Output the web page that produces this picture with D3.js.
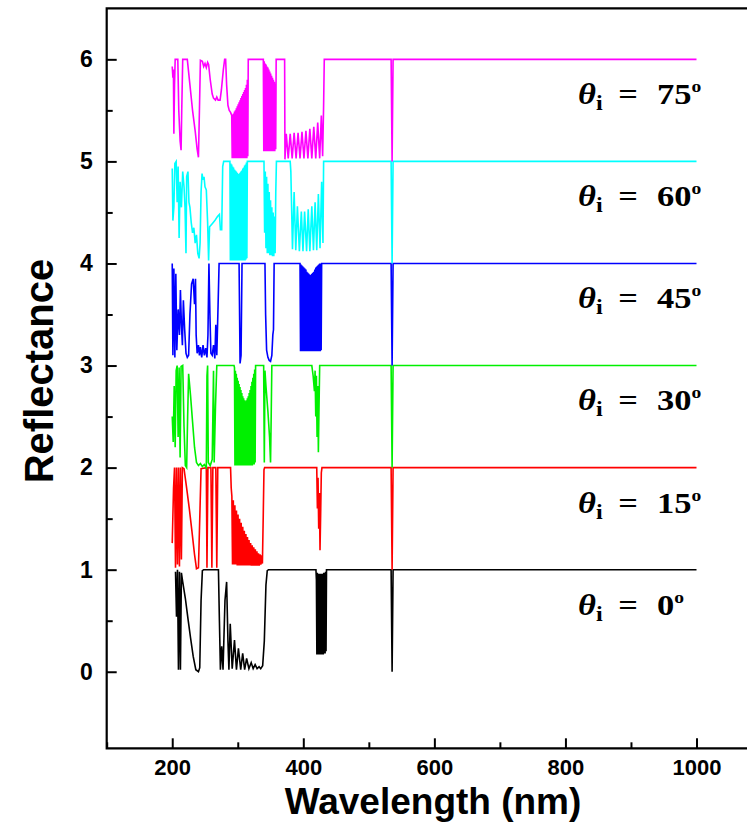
<!DOCTYPE html>
<html>
<head>
<meta charset="utf-8">
<script src="https://cdn.jsdelivr.net/npm/d3@7/dist/d3.min.js"></script>
<style>
  html, body { margin: 0; padding: 0; background: #ffffff; }
  svg { display: block; }
</style>
</head>
<body>
<svg id="chart" width="747" height="823"></svg>
<script>
// ---------------- DATA ----------------
const angles = [0, 15, 30, 45, 60, 75];
const colors = ["#000000", "#ff0000", "#00f000", "#0000ff", "#00ffff", "#ff00ff"];
const xMajorTicks = [200, 400, 600, 800, 1000];
const xMinorTicks = [100, 300, 500, 700, 900];
const yMajorTicks = [0, 1, 2, 3, 4, 5, 6];
const yMinorTicks = [0.5, 1.5, 2.5, 3.5, 4.5, 5.5];

// [wavelength (nm), reflectance] — each curve is offset by its index in the plot
const theta0 = [
  [205,0.98],[206.5,0.54],[208,1.0],[209.5,0.02],[211,0.98],[212.5,0.02],[214,0.97],[216,0.88],
  [220,0.72],[224,0.52],[228,0.33],[232,0.15],[236,0.02],[240,0.0],[242,0.04],[244,0.7],[246,0.99],
  [248,1.0],[270.5,1.0],[272,0.5],[273.5,0.02],[275.5,0.25],[277.5,0.02],[280.5,0.7],[283,0.88],
  [285,0.3],[286.5,0.02],[288.5,0.47],[291.5,0.03],[295,0.31],[298,0.02],[301,0.23],[304.5,0.02],
  [307.5,0.18],[310.5,0.02],[313.5,0.13],[317,0.03],[320.5,0.09],[323.5,0.03],[326.5,0.07],
  [329.5,0.03],[332.5,0.05],[335,0.03],[338,0.06],[340.5,0.3],[343,0.85],[345,0.99],[347,1.0],
  [419.3,1.0],[420,0.9],[420.7,0.17],[421.4,0.97],[422.1,0.17],[422.8,0.96],[423.5,0.17],[424.2,0.96],
  [424.9,0.17],[425.6,0.96],[426.3,0.17],[427,0.96],[427.7,0.17],[428.4,0.96],[429.1,0.17],
  [429.8,0.96],[430.5,0.17],[431.2,0.97],[431.9,0.18],[432.6,0.97],[433.3,0.18],[434,0.98],
  [434.7,0.2],[435.4,1.0],[534,1.0],[535.5,0.0],[537,1.0],[1000,1.0]
];
const theta15 = [
  [200,0.26],[202,0.8],[203.5,1.0],[205,0.02],[206.5,1.0],[208,0.05],[209.5,1.0],[211,0.03],
  [212.5,1.0],[214,0.1],[215.5,1.0],[218,0.99],[222,0.8],[226,0.6],[230,0.38],[234,0.15],[237,0.01],
  [240,0.02],[242,0.5],[244,0.99],[252,1.0],[253,0.02],[254.5,1.0],[259,1.0],[260.5,0.02],[262,1.0],
  [266.5,1.0],[268,0.02],[269.5,1.0],[289,1.0],[290,0.8],[291,0.72],[292,0.05],[293.2,0.68],
  [294.4,0.05],[295.6,0.63],[296.8,0.05],[298,0.58],[299.2,0.04],[300.4,0.54],[301.6,0.04],
  [302.8,0.5],[304,0.04],[305.2,0.46],[306.4,0.04],[307.6,0.42],[308.8,0.04],[310,0.38],[311.2,0.04],
  [312.4,0.35],[313.6,0.04],[314.8,0.32],[316,0.04],[317.2,0.29],[318.4,0.04],[319.6,0.26],
  [320.8,0.04],[322,0.24],[323.2,0.04],[324.4,0.22],[325.6,0.04],[326.8,0.2],[328,0.04],[329.2,0.18],
  [330.4,0.04],[331.6,0.16],[332.8,0.04],[334,0.15],[335.2,0.05],[336.4,0.14],[337.6,0.06],
  [338.8,0.5],[340,0.98],[341,1.0],[420.5,1.0],[421.5,0.6],[422.5,0.9],[423.5,0.4],[424.5,0.75],
  [425.5,0.19],[426.5,0.55],[427.5,0.95],[428.5,1.0],[534,1.0],[535.5,0.0],[537,1.0],[1000,1.0]
];
const theta30 = [
  [200,0.5],[201.5,0.25],[203,0.8],[204.5,0.2],[206,0.95],[207.5,1.0],[209,0.3],[210.5,0.98],
  [212,0.1],[213.5,0.99],[216,1.0],[218,0.4],[220,0.02],[222,0.0],[223.5,0.5],[225,0.92],[228,0.7],
  [231,0.45],[234,0.2],[237,0.05],[240,0.02],[243,0.04],[246,0.01],[249,0.03],[252,0.0],[253,0.9],
  [254,1.0],[255,0.05],[258,0.02],[261,0.08],[263,0.95],[264,0.05],[266,0.6],[268,1.0],[294.3,1.0],
  [295,0.98],[295.7,0.02],[296.4,0.95],[297.1,0.02],[297.8,0.92],[298.5,0.02],[299.2,0.88],
  [299.9,0.02],[300.6,0.85],[301.3,0.02],[302,0.82],[302.7,0.02],[303.4,0.79],[304.1,0.02],
  [304.8,0.76],[305.5,0.02],[306.2,0.73],[306.9,0.02],[307.6,0.7],[308.3,0.02],[309,0.68],
  [309.7,0.02],[310.4,0.66],[311.1,0.02],[311.8,0.65],[312.5,0.02],[313.2,0.66],[313.9,0.02],
  [314.6,0.68],[315.3,0.02],[316,0.7],[316.7,0.02],[317.4,0.73],[318.1,0.02],[318.8,0.76],
  [319.5,0.02],[320.2,0.8],[320.9,0.02],[321.6,0.84],[322.3,0.02],[323,0.88],[323.7,0.03],
  [324.4,0.92],[325.1,0.03],[325.8,0.96],[326.5,0.05],[327.2,1.0],[339.5,1.0],[340.5,0.05],
  [341.5,0.95],[343,0.8],[346,0.55],[348.5,0.3],[350,0.05],[351,0.5],[352,1.0],[413,1.0],[415,0.9],
  [417,0.75],[418,0.95],[419,0.5],[420,0.9],[421,0.3],[422,0.8],[423,0.15],[424,0.6],[425,1.0],
  [534,1.0],[535.5,0.0],[537,1.0],[1000,1.0]
];
const theta45 = [
  [200,1.0],[201,0.1],[202.5,0.95],[204,0.08],[205.5,0.9],[207,0.15],[209,0.55],[211,0.3],
  [212.5,0.74],[214,0.4],[215.5,0.2],[217,0.64],[219,0.35],[221,0.12],[223,0.08],[225,0.1],[227,0.5],
  [229.5,0.8],[232,0.85],[234,0.6],[235.5,0.85],[236.5,0.3],[238,0.12],[240,0.2],[241.5,0.1],
  [243,0.18],[245,0.08],[247,0.2],[249,0.1],[251,0.17],[253,0.08],[254.5,0.3],[256,1.0],[257.5,0.5],
  [259,0.12],[261,0.1],[263,0.2],[265,0.07],[266.5,0.4],[268,0.1],[270,0.6],[271.5,1.0],[302,1.0],
  [303.5,0.02],[305,0.1],[306.5,1.0],[341.5,1.0],[342.5,0.5],[344,0.15],[346,0.08],[348,0.05],
  [350,0.04],[352,0.1],[353.5,0.3],[354.5,0.35],[355.5,1.0],[394.5,1.0],[395,1.0],[395.75,0.14],
  [396.5,0.99],[397.25,0.14],[398,0.98],[398.75,0.14],[399.5,0.97],[400.25,0.14],[401,0.96],
  [401.75,0.14],[402.5,0.95],[403.25,0.14],[404,0.94],[404.75,0.14],[405.5,0.92],[406.25,0.14],
  [407,0.91],[407.75,0.14],[408.5,0.9],[409.25,0.14],[410,0.89],[410.75,0.14],[411.5,0.89],
  [412.25,0.14],[413,0.9],[413.75,0.14],[414.5,0.91],[415.25,0.14],[416,0.92],[416.75,0.14],
  [417.5,0.94],[418.25,0.14],[419,0.96],[419.75,0.14],[420.5,0.97],[421.25,0.14],[422,0.98],
  [422.75,0.14],[423.5,0.99],[424.25,0.14],[425,1.0],[425.75,0.14],[426.5,1.0],[427.25,0.15],
  [428,1.0],[534,1.0],[535.5,0.0],[537,1.0],[1000,1.0]
];
const theta60 = [
  [200,0.93],[201,0.42],[202.5,0.55],[204,0.98],[206,1.0],[207.5,0.6],[209,0.95],[210.5,0.25],
  [212,0.8],[214,0.55],[216,0.9],[218,0.75],[219.5,0.55],[221,0.1],[222,0.85],[224,0.9],[225.5,0.6],
  [227,0.55],[229,0.4],[231,0.3],[233,0.35],[235,0.2],[237,0.28],[239,0.1],[241,0.05],[242.5,0.2],
  [244,0.7],[245.5,0.88],[247,0.82],[248.5,0.85],[250,0.75],[252,0.72],[254,0.4],[255.5,0.03],
  [257,0.36],[261,0.39],[265,0.42],[269,0.46],[272,0.48],[273.5,0.33],[275.5,0.33],[277,0.95],
  [278.5,1.0],[288,1.0],[288.7,0.03],[289.4,0.98],[290.1,0.03],[290.8,0.97],[291.5,0.03],[292.2,0.95],
  [292.9,0.03],[293.6,0.94],[294.3,0.03],[295,0.92],[295.7,0.03],[296.4,0.91],[297.1,0.03],
  [297.8,0.9],[298.5,0.03],[299.2,0.89],[299.9,0.03],[300.6,0.88],[301.3,0.03],[302,0.88],
  [302.7,0.03],[303.4,0.89],[304.1,0.03],[304.8,0.9],[305.5,0.03],[306.2,0.91],[306.9,0.03],
  [307.6,0.93],[308.3,0.03],[309,0.94],[309.7,0.03],[310.4,0.96],[311.1,0.03],[311.8,0.97],
  [312.5,0.04],[313.2,0.99],[313.9,0.05],[314.6,1.0],[340,1.0],[341,0.3],[342,0.9],[343,0.15],
  [344,0.85],[345,0.1],[346,0.78],[347,0.1],[348,0.7],[349,0.08],[350,0.62],[351,0.08],[352,0.55],
  [353,0.07],[354,0.5],[355,0.07],[356,0.46],[357,0.1],[358,0.7],[359,1.0],[380,1.0],[381,0.9],
  [383.5,0.14],[386,0.7],[388.5,0.13],[391,0.56],[394,0.12],[397,0.51],[399.5,0.12],[402,0.51],
  [405,0.12],[407.5,0.53],[410,0.12],[413,0.56],[415.5,0.13],[418,0.6],[420.5,0.13],[423,0.68],
  [425.5,0.15],[428,0.8],[430,0.2],[431,1.0],[534,1.0],[535.5,0.0],[537,1.0],[1000,1.0]
];
const theta75 = [
  [200,0.93],[201,0.82],[201.8,0.9],[202.5,0.27],[203.5,0.75],[204.5,1.0],[208.5,1.0],[210,0.5],
  [212,0.2],[213.5,0.11],[214.5,0.5],[216,1.0],[223,1.0],[227,0.75],[231,0.5],[235,0.3],[238,0.12],
  [240,0.04],[241.5,0.5],[243,0.99],[246,0.98],[248,0.93],[250,0.96],[252,0.92],[254,0.97],
  [255.5,0.95],[258,0.8],[261,0.66],[263,0.62],[266,0.6],[268,0.63],[270,0.6],[273,0.6],[275,0.7],
  [278,0.9],[280,1.0],[281.5,1.0],[283,0.75],[285,0.55],[287,0.5],[289,0.48],[290.8,0.45],
  [291.5,0.03],[292.2,0.46],[292.9,0.03],[293.6,0.47],[294.3,0.03],[295,0.49],[295.7,0.03],
  [296.4,0.5],[297.1,0.03],[297.8,0.52],[298.5,0.03],[299.2,0.54],[299.9,0.03],[300.6,0.56],
  [301.3,0.03],[302,0.58],[302.7,0.03],[303.4,0.6],[304.1,0.03],[304.8,0.62],[305.5,0.03],
  [306.2,0.64],[306.9,0.03],[307.6,0.66],[308.3,0.03],[309,0.68],[309.7,0.03],[310.4,0.7],
  [311.1,0.03],[311.8,0.72],[312.5,0.03],[313.2,0.75],[313.9,0.03],[314.6,0.8],[315.3,0.05],
  [316,1.0],[338.5,1.0],[339,1.0],[339.7,0.1],[340.4,0.98],[341.1,0.1],[341.8,0.96],[342.5,0.1],
  [343.2,0.95],[343.9,0.1],[344.6,0.93],[345.3,0.1],[346,0.92],[346.7,0.1],[347.4,0.9],[348.1,0.1],
  [348.8,0.88],[349.5,0.1],[350.2,0.86],[350.9,0.1],[351.6,0.84],[352.3,0.1],[353,0.82],[353.7,0.1],
  [354.4,0.8],[355.1,0.1],[355.8,0.78],[356.5,0.1],[357.2,0.76],[357.9,0.12],[358.6,1.0],[371.5,1.0],
  [372,0.02],[374,0.27],[377,0.03],[380,0.27],[383,0.03],[386,0.28],[389,0.03],[392,0.28],[395,0.03],
  [398,0.29],[401,0.03],[404,0.3],[407,0.03],[410,0.32],[413,0.03],[416,0.34],[419,0.03],[422,0.38],
  [425,0.03],[427.5,0.45],[429.5,0.05],[431,0.55],[432,1.0],[534,1.0],[535.5,0.0],[537,1.0],[1000,1.0]
];
const series = [theta0, theta15, theta30, theta45, theta60, theta75];

// ---------------- CHART ----------------
const svg = d3.select("#chart");
const x = d3.scaleLinear().domain([100, 1000]).range([106.7, 696.5]);
const y = d3.scaleLinear().domain([-0.75, 6.5]).range([748.3, 8.3]);

const axisFont = "'Liberation Sans', Arial, Helvetica, sans-serif";

// frame (right side runs beyond the visible area)
svg.append("path")
  .attr("d", `M${x(1100)},${y(6.5)} H${x(100)} V${y(-0.75)} H${x(1100)}`)
  .attr("fill", "none").attr("stroke", "#000").attr("stroke-width", 2.2);

// curves
const line = d3.line().x(d => x(d[0]));
series.forEach((data, i) => {
  svg.append("path")
    .datum(data)
    .attr("fill", "none")
    .attr("stroke", colors[i])
    .attr("stroke-width", 1.6)
    .attr("stroke-linejoin", "miter")
    .attr("d", line.y(d => y(d[1] + i)));
});

// axes
const gx = svg.append("g").attr("transform", `translate(0,${y(-0.75)})`)
  .call(d3.axisBottom(x).tickValues(xMajorTicks).tickSize(-10).tickSizeOuter(0).tickPadding(11)
    .tickFormat(d3.format("d")));
const gxm = svg.append("g").attr("transform", `translate(0,${y(-0.75)})`)
  .call(d3.axisBottom(x).tickValues(xMinorTicks).tickSize(-6).tickSizeOuter(0).tickFormat(""));
const gy = svg.append("g").attr("transform", `translate(${x(100)},0)`)
  .call(d3.axisLeft(y).tickValues(yMajorTicks).tickSize(-10).tickSizeOuter(0).tickPadding(14)
    .tickFormat(d3.format("d")));
const gym = svg.append("g").attr("transform", `translate(${x(100)},0)`)
  .call(d3.axisLeft(y).tickValues(yMinorTicks).tickSize(-6).tickSizeOuter(0).tickFormat(""));

[gx, gxm, gy, gym].forEach(g => {
  g.select(".domain").remove();
  g.selectAll(".tick line").attr("stroke", "#000").attr("stroke-width", 2);
});
gx.selectAll(".tick text").attr("font-family", axisFont).attr("font-weight", "bold")
  .attr("font-size", 22).attr("fill", "#000");
gy.selectAll(".tick text").attr("font-family", axisFont).attr("font-weight", "bold")
  .attr("font-size", 23).attr("fill", "#000");

// axis titles
svg.append("text")
  .attr("x", 433).attr("y", 814)
  .attr("text-anchor", "middle")
  .attr("font-family", axisFont).attr("font-weight", "bold").attr("font-size", 37)
  .text("Wavelength (nm)");
svg.append("text")
  .attr("transform", `translate(53,371) rotate(-90)`)
  .attr("text-anchor", "middle")
  .attr("font-family", axisFont).attr("font-weight", "bold").attr("font-size", 40)
  .text("Reflectance");

// angle labels (slightly wide Times-style lettering)
const serif = "'Liberation Serif', 'Times New Roman', serif";
angles.forEach((a, i) => {
  const base = y(i + 0.56);
  const t = svg.append("text")
    .attr("transform", `translate(578,${base}) scale(1.15,1)`)
    .attr("x", 0).attr("y", 0)
    .attr("font-family", serif).attr("font-weight", "bold").attr("font-size", 30).attr("fill", "#000");
  t.append("tspan").attr("font-style", "italic").text("θ");
  t.append("tspan").attr("font-size", 21).attr("dy", 6).text("i");
  t.append("tspan").attr("x", 35).attr("dy", -6).text("=");
  t.append("tspan").attr("x", 68.7).text(String(a));
  t.append("tspan").attr("font-size", 17).attr("dy", -12).text("o");
});
</script>
</body>
</html>
